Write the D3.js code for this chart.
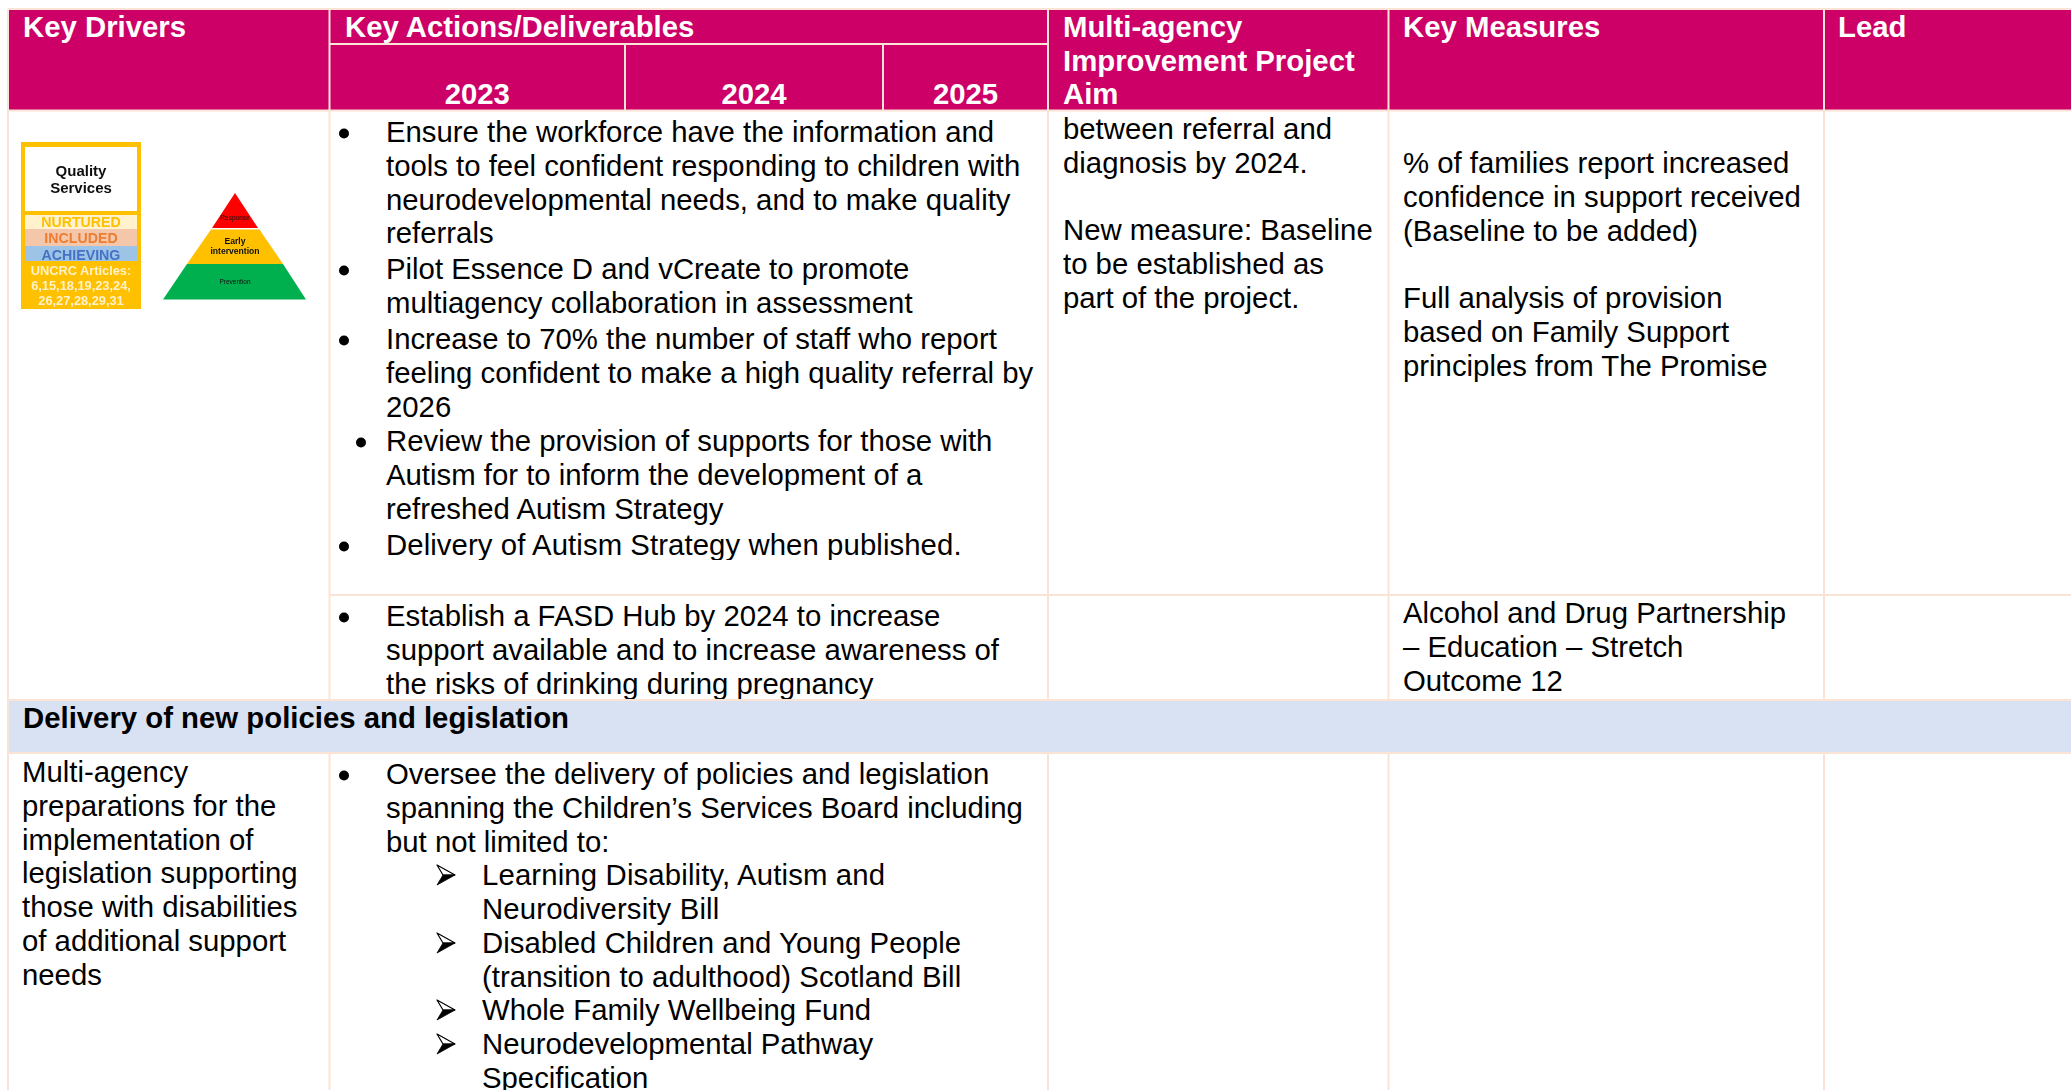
<!DOCTYPE html>
<html>
<head>
<meta charset="utf-8">
<script src="https://cdn.jsdelivr.net/npm/d3@7/dist/d3.min.js"></script>
<style>
  html, body { margin: 0; padding: 0; background: #fff; overflow: hidden; }
  svg { display: block; }
  text { font-family: "Liberation Sans", Arial, sans-serif; }
</style>
</head>
<body>
<svg></svg>
<script>
// the text of the table
var headers = ["Key Drivers", "Key Actions/Deliverables", "Key Measures", "Lead"];
var aimHeader = ["Multi-agency", "Improvement Project", "Aim"];
var years = ["2023", "2024", "2025"];
var sectionTitle = "Delivery of new policies and legislation";

var actionsOne = ["Ensure the workforce have the information and", "tools to feel confident responding to children with", "neurodevelopmental needs, and to make quality", "referrals"];
var actionsTwo = ["Pilot Essence D and vCreate to promote", "multiagency collaboration in assessment"];
var actionsThree = ["Increase to 70% the number of staff who report", "feeling confident to make a high quality referral by", "2026"];
var actionsFour = ["Review the provision of supports for those with", "Autism for to inform the development of a", "refreshed Autism Strategy"];
var actionsFive = ["Delivery of Autism Strategy when published."];
var fasdActions = ["Establish a FASD Hub by 2024 to increase", "support available and to increase awareness of", "the risks of drinking during pregnancy"];
var oversee = ["Oversee the delivery of policies and legislation", "spanning the Children\u2019s Services Board including", "but not limited to:"];
var policyOne = ["Learning Disability, Autism and", "Neurodiversity Bill"];
var policyTwo = ["Disabled Children and Young People", "(transition to adulthood) Scotland Bill"];
var policyThree = ["Whole Family Wellbeing Fund"];
var policyFour = ["Neurodevelopmental Pathway", "Specification"];

var aimText = ["between referral and", "diagnosis by 2024.", "", "New measure: Baseline", "to be established as", "part of the project."];
var measureText = ["% of families report increased", "confidence in support received", "(Baseline to be added)", "", "Full analysis of provision", "based on Family Support", "principles from The Promise"];
var fasdMeasure = ["Alcohol and Drug Partnership", "\u2013 Education \u2013 Stretch", "Outcome 12"];
var driverText = ["Multi-agency", "preparations for the", "implementation of", "legislation supporting", "those with disabilities", "of additional support", "needs"];

var logoTitle = ["Quality", "Services"];
var logoBands = ["NURTURED", "INCLUDED", "ACHIEVING"];
var logoArticles = ["UNCRC Articles:", "6,15,18,19,23,24,", "26,27,28,29,31"];
var pyramidTiers = ["Response", "Early", "intervention", "Prevention"];

var width = 2071,
  height = 1090;
var pink = "#CC0066",
  rule = "#FBE4D5",
  band = "#D9E2F3",
  gold = "#FFC000";
var fontSize = 29.33,
  lineStep = 33.8;

// column edges: Key Drivers, Actions, Aim, Measures, Lead
var columns = [8, 329.5, 1048, 1388.5, 1824, 2071];
var yearEdges = [329.5, 625, 883, 1048];

var svg = d3.select("svg").attr("width", width).attr("height", height);

//////////// BACKGROUNDS ////////////

svg.append("rect").attr("x", 8).attr("y", 9).attr("width", width - 8).attr("height", 101).attr("fill", pink);

// writes lines of text with a fixed step from a first baseline
function block(lines, x, y0, opts) {
  opts = opts || {};
  var lineY = d3.scaleLinear().domain([0, 1]).range([y0, y0 + (opts.step || lineStep)]);
  svg.append("g")
    .selectAll("text")
    .data(lines)
    .enter()
    .append("text")
    .attr("x", x)
    .attr("y", function (d, i) { return lineY(i); })
    .attr("fill", opts.fill || "#000")
    .attr("font-size", opts.size || fontSize)
    .attr("font-weight", opts.bold ? "bold" : "normal")
    .attr("letter-spacing", opts.spacing || 0)
    .text(function (d) { return d; });
}

function bulleted(lines, bulletX, textX, y0, opts) {
  svg.append("circle").attr("cx", bulletX).attr("cy", y0 - 8.5).attr("r", 5).attr("fill", "#000");
  block(lines, textX, y0, opts);
}

// the wingdings style arrow head: white upper half, black lower half
function arrowed(lines, y0, opts) {
  var g = svg.append("g").attr("transform", "translate(437," + (y0 + 1) + ")");
  g.append("path").attr("d", "M0,-21L18,-11L6,-11Z").attr("fill", "#fff").attr("stroke", "#000").attr("stroke-width", 1.2).attr("stroke-linejoin", "round");
  g.append("path").attr("d", "M0,-1L18,-11L6,-11Z").attr("fill", "#000").attr("stroke", "#000").attr("stroke-width", 0.8).attr("stroke-linejoin", "round");
  block(lines, 482, y0, opts);
}

//////////// HEADER ////////////

block([headers[0]], 23, 37, { bold: true, fill: "#fff" });
block([headers[1]], 345, 37, { bold: true, fill: "#fff" });
block(aimHeader, 1063, 37, { bold: true, fill: "#fff", step: 33.5 });
block([headers[2]], 1403, 37, { bold: true, fill: "#fff" });
block([headers[3]], 1838, 37, { bold: true, fill: "#fff" });

svg.append("g")
  .selectAll("text")
  .data(years)
  .enter()
  .append("text")
  .attr("x", function (d, i) { return (yearEdges[i] + yearEdges[i + 1]) / 2; })
  .attr("y", 103.5)
  .attr("fill", "#fff")
  .attr("font-size", fontSize)
  .attr("font-weight", "bold")
  .attr("text-anchor", "middle")
  .text(function (d) { return d; });

//////////// BODY TEXT ////////////

bulleted(actionsOne, 344, 386, 142);
bulleted(actionsTwo, 344, 386, 279);
bulleted(actionsThree, 344, 386, 349);
bulleted(actionsFour, 361, 386, 451);
bulleted(actionsFive, 344, 386, 555, { spacing: 0.08 });
// the last action line has its descenders cut in the reference
svg.append("rect").attr("x", 330).attr("y", 560).attr("width", 718).attr("height", 34).attr("fill", "#fff");
bulleted(fasdActions, 344, 386, 626);

block(aimText, 1063, 139);
block(measureText, 1403, 173);
block(fasdMeasure, 1403, 623);

// section band sits on top of the row above, it clips the descenders
svg.append("rect").attr("x", 8).attr("y", 700).attr("width", width - 8).attr("height", 53).attr("fill", band);
block([sectionTitle], 23, 728, { bold: true });

block(driverText, 22, 782);
bulleted(oversee, 344, 386, 784);
arrowed(policyOne, 885, { spacing: 0.14 });
arrowed(policyTwo, 953, { spacing: 0.04 });
arrowed(policyThree, 1020);
arrowed(policyFour, 1054);

//////////// RULES ////////////

var rules = svg.append("g").attr("stroke", rule).attr("stroke-width", 2);
function hLine(x1, x2, y) { rules.append("line").attr("x1", x1).attr("x2", x2).attr("y1", y).attr("y2", y); }
function vLine(x, y1, y2) { rules.append("line").attr("x1", x).attr("x2", x).attr("y1", y1).attr("y2", y2); }

hLine(8, width, 9);
hLine(329.5, 1048, 44);
hLine(8, width, 110.5);
hLine(329.5, width, 595);
hLine(8, width, 700);
hLine(8, width, 753);
vLine(8, 9, height);
vLine(329.5, 9, 700);
vLine(329.5, 753, height);
vLine(625, 44, 110);
vLine(883, 44, 110);
columns.slice(2, 5).forEach(function (x) {
  vLine(x, 9, 700);
  vLine(x, 753, height);
});

//////////// LOGOS ////////////

var defs = svg.append("defs");
defs.append("filter").attr("id", "soft").append("feGaussianBlur").attr("stdDeviation", 0.55);

var logo = svg.append("g").attr("filter", "url(#soft)");
logo.append("rect").attr("x", 21).attr("y", 142).attr("width", 120).attr("height", 167).attr("fill", gold);
logo.append("rect").attr("x", 25).attr("y", 147).attr("width", 112).attr("height", 64).attr("fill", "#fff");

var bandFill = ["#FFF2CC", "#F4C7AB", "#9DC3E6"];
var bandText = [gold, "#ED7D31", "#4472C4"];
var bandY = d3.scaleOrdinal().domain(logoBands).range([215, 229, 246]);
var bandH = d3.scaleOrdinal().domain(logoBands).range([14, 17, 15]);

logo.selectAll(".bandRect")
  .data(logoBands)
  .enter()
  .append("rect")
  .attr("x", 25)
  .attr("y", function (d) { return bandY(d); })
  .attr("width", 112)
  .attr("height", function (d) { return bandH(d); })
  .attr("fill", function (d, i) { return bandFill[i]; });

logo.selectAll(".bandText")
  .data(logoBands)
  .enter()
  .append("text")
  .attr("x", 81)
  .attr("y", function (d, i) { return bandY(d) + [12, 14, 14][i]; })
  .attr("text-anchor", "middle")
  .attr("font-size", 14.2)
  .attr("font-weight", "bold")
  .attr("fill", function (d, i) { return bandText[i]; })
  .text(function (d) { return d; });

logo.selectAll(".title")
  .data(logoTitle)
  .enter()
  .append("text")
  .attr("x", 81)
  .attr("y", function (d, i) { return 176 + i * 17; })
  .attr("text-anchor", "middle")
  .attr("font-size", 15)
  .attr("font-weight", "bold")
  .attr("fill", "#111")
  .text(function (d) { return d; });

logo.selectAll(".articles")
  .data(logoArticles)
  .enter()
  .append("text")
  .attr("x", 81)
  .attr("y", function (d, i) { return 275 + i * 15; })
  .attr("text-anchor", "middle")
  .attr("font-size", 12.8)
  .attr("font-weight", "bold")
  .attr("fill", "#FFF2CC")
  .text(function (d) { return d; });

var pyramid = svg.append("g").attr("filter", "url(#soft)");
pyramid.append("path").attr("d", "M235,193L258,228H212Z").attr("fill", "#FF0000");
pyramid.append("path").attr("d", "M211,229.5H259.5L283,264H187Z").attr("fill", gold);
pyramid.append("path").attr("d", "M187,264H283L306,299.5H163Z").attr("fill", "#00B050");

pyramid.selectAll("text")
  .data(pyramidTiers)
  .enter()
  .append("text")
  .attr("x", 235)
  .attr("y", function (d, i) { return [220, 244, 254, 284][i]; })
  .attr("text-anchor", "middle")
  .attr("font-size", function (d, i) { return i == 1 || i == 2 ? 8.6 : 6.5; })
  .attr("font-weight", function (d, i) { return i == 1 || i == 2 ? "bold" : "normal"; })
  .attr("fill", "#111")
  .text(function (d) { return d; });
</script>
</body>
</html>
